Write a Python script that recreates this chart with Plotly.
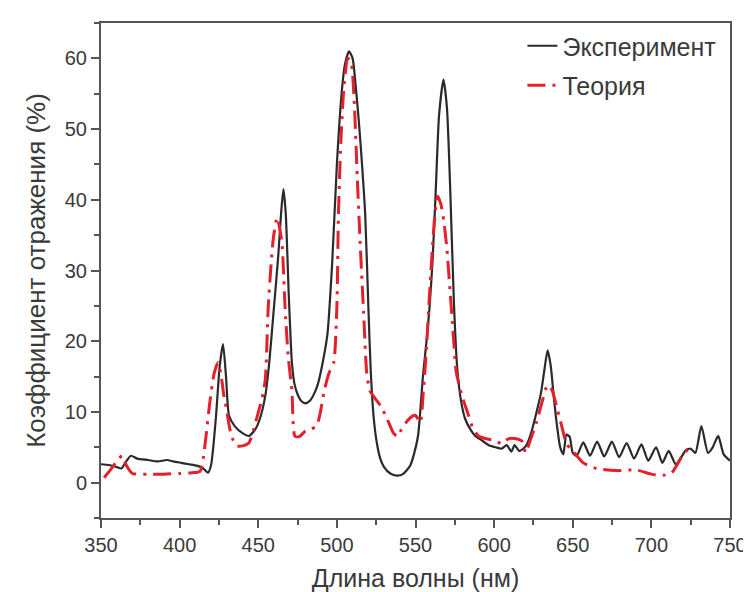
import plotly.graph_objects as go

# Experiment (black solid)
exp_x = [350, 355, 360, 363, 366, 369, 373, 380, 386, 392, 396, 401, 406, 411, 415, 418,
         420, 423, 425.5, 427.6, 429.5, 431.4, 435, 440, 444, 448, 451, 454.5, 457, 459.5,
         462.7, 464.5, 466, 467.5, 469.5, 471.4, 473, 475, 477.5, 480, 483, 486, 488, 491,
         494, 497, 500, 503, 505, 507.7, 510, 512, 514, 516, 518, 520, 521.5, 523.5, 525.5,
         527.6, 530, 534, 538, 542, 546.6, 549, 551.6, 553, 554.7, 557, 559, 561, 563, 565,
         567.8, 570, 572, 574.5, 576.6, 579, 581.6, 585, 588, 592, 596.6, 601, 604.8, 608,
         611, 613, 616, 619, 621, 623.5, 627, 629.8, 632, 634, 636, 638, 640, 642, 644,
         646, 648, 650, 652.5, 656.7, 661, 665.5, 670, 674.9, 679.5, 684.3, 689, 693.7, 698,
         703, 707, 711, 715.5, 719, 722, 725, 728, 731.8, 736, 739, 742.5, 746, 750]
exp_y = [2.6, 2.5, 2.2, 2.0, 3.0, 3.8, 3.4, 3.2, 3.0, 3.2, 3.0, 2.8, 2.6, 2.4, 2.0, 1.4,
         2.5, 9.0, 16.5, 19.6, 15.0, 9.5, 8.0, 7.0, 6.6, 7.5, 9.0, 12.3, 17.0, 23.5,
         32.0, 38.0, 41.5, 38.0, 26.0, 17.0, 14.0, 12.5, 11.5, 11.2, 11.6, 12.8, 14.0, 17.0,
         21.0, 31.0, 45.0, 55.0, 59.0, 61.0, 60.0, 56.0, 51.0, 45.0, 38.0, 25.0, 16.0, 9.0, 5.5,
         3.4, 2.2, 1.3, 1.0, 1.2, 2.4, 4.0, 6.6, 10.0, 15.0, 20.0, 25.0, 32.0, 42.0, 52.0,
         57.0, 53.0, 42.0, 25.0, 16.0, 11.5, 9.0, 7.5, 6.6, 6.0, 5.3, 5.0, 4.8, 5.3,
         4.4, 5.3, 4.5, 4.9, 5.5, 7.0, 10.0, 12.7, 16.0, 18.7, 16.5, 12.0, 8.0, 5.0, 4.0,
         6.8, 6.5, 4.2, 3.8, 5.7, 3.8, 5.8, 3.7, 5.8, 3.6, 5.6, 3.4, 5.4, 3.1,
         5.0, 2.8, 4.5, 2.6, 3.6, 4.6, 4.8, 4.2, 8.0, 4.2, 5.0, 6.6, 4.0, 3.1]

# Theory (red dash-dot)
th_x = [352, 356, 360, 363.5, 366, 370, 380, 390, 400, 408, 413, 415, 417, 419, 422, 424.5,
        426.5, 428, 429.5, 432, 434, 436, 440, 444, 447, 450, 452.5, 454.5, 456.4, 459.5,
        462, 465, 467, 469, 471.4, 473.3, 476, 480, 484, 487, 489, 492, 495, 498, 500, 501,
        502.5, 504.5, 507, 509, 511, 513, 515, 517, 519, 521, 524, 528, 532, 536, 538.5,
        541, 545, 548, 550, 553, 555, 557, 559, 562, 564, 566, 568, 570, 572, 574, 576,
        580, 583, 586, 590, 595, 600, 605, 609, 614, 618, 620, 623, 627, 630, 634, 637,
        640, 643, 646, 650, 656.7, 665, 678, 690, 700, 705, 709, 713, 717, 721, 725]
th_y = [0.7, 1.8, 3.0, 3.8, 2.5, 1.3, 1.2, 1.2, 1.3, 1.4, 1.6, 3.4, 7.0, 11.0, 15.5, 17.0,
        15.0, 12.5, 10.8, 7.5, 6.0, 5.2, 5.2, 5.6, 7.5, 9.9, 12.0, 14.6, 25.0, 34.4,
        37.5, 34.0, 25.0, 18.0, 13.0, 6.6, 6.5, 7.3, 7.6, 8.0, 9.4, 13.0, 15.5, 17.0, 25.0, 38.0,
        48.0, 56.0, 60.0, 59.5, 54.0, 43.0, 33.0, 24.0, 15.5, 13.0, 12.0, 10.8, 9.0, 7.0, 6.5,
        7.5, 8.8, 9.4, 9.5, 8.5, 13.0, 19.0, 27.0, 37.0, 40.5, 39.5, 37.0, 33.0, 27.0, 21.0, 15.5,
        12.0, 10.0, 8.0, 6.6, 6.2, 6.0, 5.5, 6.2, 6.2, 5.8, 4.2, 6.0, 8.6, 11.0, 13.8, 13.0,
        10.5, 8.0, 5.5, 4.5, 2.8, 2.0, 1.7, 1.8, 1.2, 1.0, 1.1, 1.4, 2.8, 4.2, 5.0]

x_ticks = [350, 400, 450, 500, 550, 600, 650, 700, 750]
y_ticks = [0, 10, 20, 30, 40, 50, 60]

FONT = "Liberation Sans, Arial, sans-serif"
AXIS_COLOR = "#555555"
TEXT_COLOR = "#3a3a3a"

fig = go.Figure()
fig.add_trace(go.Scatter(
    x=exp_x, y=exp_y, mode="lines", name="Эксперимент",
    line=dict(color="#2a2a2a", width=2.2, shape="spline", smoothing=0.6),
    legendgroup="a"))
fig.add_trace(go.Scatter(
    x=th_x, y=th_y, mode="lines", name="Теория",
    line=dict(color="#e3202b", width=3, dash="18px,7px,3px,7px",
              shape="spline", smoothing=0.6),
    legendgroup="b"))

fig.update_layout(
    width=751, height=592,
    margin=dict(l=93, r=19, t=15, b=80),
    paper_bgcolor="white", plot_bgcolor="white",
    font=dict(family=FONT, color=TEXT_COLOR, size=20),
    legend=dict(x=0.67, y=1.0, xanchor="left", yanchor="top",
                bgcolor="rgba(0,0,0,0)", borderwidth=0,
                font=dict(size=25, color=TEXT_COLOR),
                traceorder="grouped", tracegroupgap=4),
    xaxis=dict(
        range=[350, 750], tickvals=x_ticks,
        ticks="outside", ticklen=8, tickwidth=2, tickcolor=AXIS_COLOR,
        minor=dict(ticks="outside", ticklen=5, tickwidth=2, dtick=25, tickcolor=AXIS_COLOR),
        showline=True, linewidth=2, linecolor=AXIS_COLOR, mirror=True,
        showgrid=False, zeroline=False,
        tickfont=dict(size=20, color=TEXT_COLOR),
        title=dict(text="Длина волны (нм)", font=dict(size=25, color=TEXT_COLOR), standoff=14),
    ),
    yaxis=dict(
        range=[-5, 65], tickvals=y_ticks,
        ticks="outside", ticklen=8, tickwidth=2, tickcolor=AXIS_COLOR,
        minor=dict(ticks="outside", ticklen=5, tickwidth=2, dtick=5, tick0=-5, tickcolor=AXIS_COLOR),
        showline=True, linewidth=2, linecolor=AXIS_COLOR, mirror=True,
        showgrid=False, zeroline=False,
        tickfont=dict(size=20, color=TEXT_COLOR),
        title=dict(text="Коэффициент отражения (%)", font=dict(size=26, color=TEXT_COLOR), standoff=12),
    ),
)

fig.write_html("out.html")
